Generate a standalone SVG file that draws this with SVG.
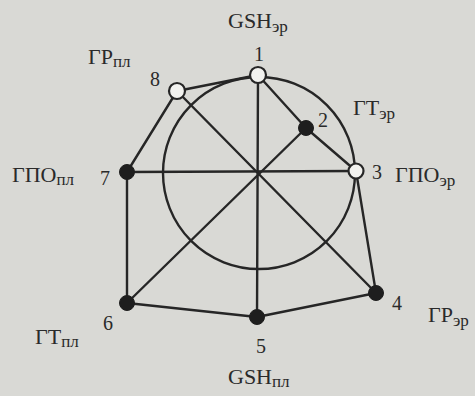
<svg xmlns="http://www.w3.org/2000/svg" width="475" height="396" viewBox="0 0 475 396">
<style>
.e{stroke:#262626;stroke-width:2.4;fill:none;stroke-linecap:round}
.o{fill:#f2f2ef;stroke:#262626;stroke-width:2.2}
.f{fill:#1e1e1e;stroke:#1e1e1e;stroke-width:1}
text{font-family:"Liberation Serif","DejaVu Serif",serif;font-size:20px;fill:#2a2a2a}
.l{font-size:22px}
.s{font-size:17px}
</style>
<rect width="475" height="396" fill="#d9d9d5"/>
<g id="connectors">
<circle class="e" cx="259" cy="173" r="96"/>
<line class="e" x1="258" y1="75" x2="177" y2="91"/>
<line class="e" x1="177" y1="91" x2="127" y2="172"/>
<line class="e" x1="127" y1="172" x2="127" y2="303"/>
<line class="e" x1="127" y1="303" x2="257" y2="317"/>
<line class="e" x1="257" y1="317" x2="376" y2="293"/>
<line class="e" x1="376" y1="293" x2="356" y2="171"/>
<line class="e" x1="258" y1="75" x2="306" y2="128"/>
<line class="e" x1="306" y1="128" x2="356" y2="171"/>
<line class="e" x1="258" y1="75" x2="257" y2="317"/>
<line class="e" x1="127" y1="172" x2="356" y2="171"/>
<line class="e" x1="177" y1="91" x2="376" y2="293"/>
<line class="e" x1="306" y1="128" x2="127" y2="303"/>
</g>
<g id="n1"><circle class="o" cx="258" cy="75" r="8"/><text x="259" y="61" text-anchor="middle">1</text><text class="l" x="228" y="28">GSH<tspan class="s" dy="4">эр</tspan></text></g>
<g id="n2"><circle class="f" cx="306" cy="128" r="7.5"/><text x="318" y="127">2</text><text class="l" x="353" y="115">ГТ<tspan class="s" dy="4">эр</tspan></text></g>
<g id="n3"><circle class="o" cx="356" cy="171" r="7.5"/><text x="372" y="179">3</text><text class="l" x="395" y="182">ГПО<tspan class="s" dy="4">эр</tspan></text></g>
<g id="n4"><circle class="f" cx="376" cy="293" r="7.5"/><text x="392" y="310">4</text><text class="l" x="428" y="322">ГР<tspan class="s" dy="4">эр</tspan></text></g>
<g id="n5"><circle class="f" cx="257" cy="317" r="7.5"/><text x="261" y="353" text-anchor="middle">5</text><text class="l" x="228" y="384">GSH<tspan class="s" dy="3">пл</tspan></text></g>
<g id="n6"><circle class="f" cx="127" cy="303" r="7.5"/><text x="103" y="330">6</text><text class="l" x="35" y="344">ГТ<tspan class="s" dy="3">пл</tspan></text></g>
<g id="n7"><circle class="f" cx="127" cy="172" r="7.5"/><text x="100" y="185">7</text><text class="l" x="12" y="182">ГПО<tspan class="s" dy="3">пл</tspan></text></g>
<g id="n8"><circle class="o" cx="177" cy="91" r="8"/><text x="150" y="86">8</text><text class="l" x="88" y="64">ГР<tspan class="s" dy="3">пл</tspan></text></g>
</svg>
